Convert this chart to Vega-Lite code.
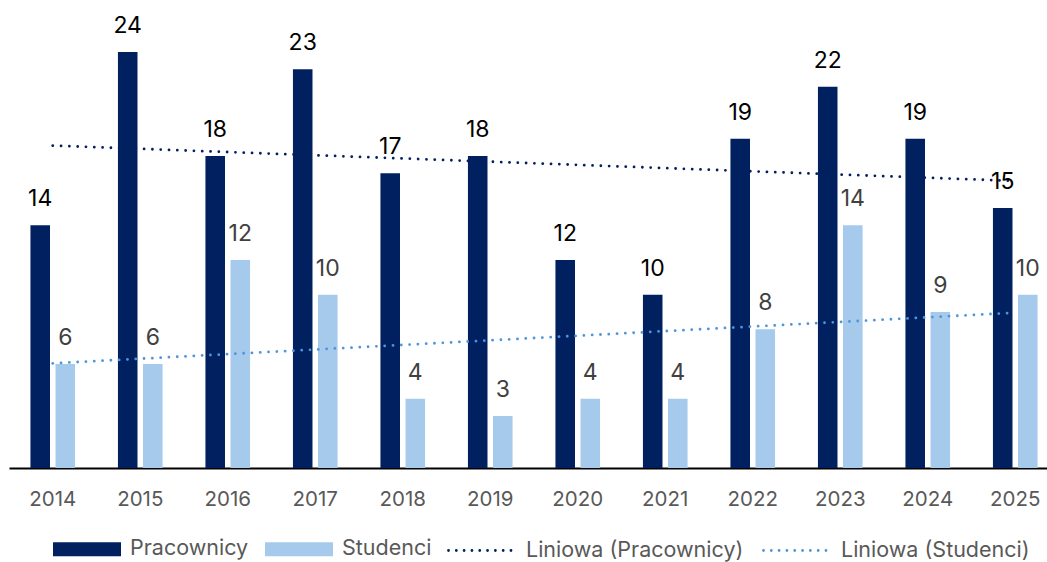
{
  "$schema": "https://vega.github.io/schema/vega-lite/v6.json",
  "width": 1050,
  "height": 468,
  "autosize": {"type": "none"},
  "padding": {"left": 9, "top": 0, "right": 0, "bottom": 94},
  "background": "white",
  "config": {"font": "Inter", "view": {"stroke": null}},
  "datasets": {
    "bars": [
      {"year": "2014", "series": "Pracownicy", "value": 14},
      {"year": "2014", "series": "Studenci", "value": 6},
      {"year": "2015", "series": "Pracownicy", "value": 24},
      {"year": "2015", "series": "Studenci", "value": 6},
      {"year": "2016", "series": "Pracownicy", "value": 18},
      {"year": "2016", "series": "Studenci", "value": 12},
      {"year": "2017", "series": "Pracownicy", "value": 23},
      {"year": "2017", "series": "Studenci", "value": 10},
      {"year": "2018", "series": "Pracownicy", "value": 17},
      {"year": "2018", "series": "Studenci", "value": 4},
      {"year": "2019", "series": "Pracownicy", "value": 18},
      {"year": "2019", "series": "Studenci", "value": 3},
      {"year": "2020", "series": "Pracownicy", "value": 12},
      {"year": "2020", "series": "Studenci", "value": 4},
      {"year": "2021", "series": "Pracownicy", "value": 10},
      {"year": "2021", "series": "Studenci", "value": 4},
      {"year": "2022", "series": "Pracownicy", "value": 19},
      {"year": "2022", "series": "Studenci", "value": 8},
      {"year": "2023", "series": "Pracownicy", "value": 22},
      {"year": "2023", "series": "Studenci", "value": 14},
      {"year": "2024", "series": "Pracownicy", "value": 19},
      {"year": "2024", "series": "Studenci", "value": 9},
      {"year": "2025", "series": "Pracownicy", "value": 15},
      {"year": "2025", "series": "Studenci", "value": 10}
    ],
    "trend": [
      {"year": "2014", "series": "Liniowa (Pracownicy)", "value": 18.6},
      {"year": "2025", "series": "Liniowa (Pracownicy)", "value": 16.56},
      {"year": "2014", "series": "Liniowa (Studenci)", "value": 6.04},
      {"year": "2025", "series": "Liniowa (Studenci)", "value": 8.96}
    ]
  },
  "layer": [
    {
      "data": {"name": "bars"},
      "mark": {"type": "bar"},
      "encoding": {
        "x": {
          "field": "year",
          "type": "ordinal",
          "scale": {"paddingInner": 0.49, "paddingOuter": 0.245},
          "axis": {
            "title": null,
            "domainColor": "#000000",
            "domainWidth": 1.8,
            "ticks": false,
            "grid": false,
            "labelFontSize": 20.5,
            "labelColor": "#595959",
            "labelPadding": 21,
            "labelAngle": 0
          }
        },
        "xOffset": {
          "field": "series",
          "type": "nominal",
          "scale": {"domain": ["Pracownicy", "Studenci"], "paddingInner": 0.22, "paddingOuter": 0}
        },
        "y": {
          "field": "value",
          "type": "quantitative",
          "scale": {"domain": [0, 27], "nice": false},
          "axis": null
        },
        "fill": {
          "field": "series",
          "type": "nominal",
          "scale": {"domain": ["Pracownicy", "Studenci"], "range": ["#002060", "#a6caec"]},
          "legend": {
            "orient": "none",
            "legendX": 44,
            "legendY": 515,
            "direction": "horizontal",
            "columns": 2,
            "title": null,
            "symbolType": "M-1,-0.206H1V0.206H-1Z",
            "symbolSize": 4624,
            "symbolStrokeWidth": 0,
            "symbolOpacity": 1,
            "labelFontSize": 21.5,
            "labelColor": "#595959",
            "labelOffset": 9,
            "columnPadding": 16,
            "padding": 0,
            "labelLimit": 400
          }
        }
      }
    },
    {
      "data": {"name": "trend"},
      "mark": {"type": "line", "strokeWidth": 2.8, "strokeCap": "round", "strokeDash": [0.01, 8.3]},
      "encoding": {
        "x": {"field": "year", "type": "ordinal"},
        "y": {"field": "value", "type": "quantitative"},
        "stroke": {
          "field": "series",
          "type": "nominal",
          "scale": {"domain": ["Liniowa (Pracownicy)", "Liniowa (Studenci)"], "range": ["#002060", "#4e95d9"]},
          "legend": {
            "orient": "none",
            "legendX": 438,
            "legendY": 514,
            "direction": "horizontal",
            "columns": 2,
            "title": null,
            "symbolType": "stroke",
            "symbolSize": 4900,
            "symbolStrokeWidth": 2.8,
            "symbolDash": [0.01, 7.8],
            "labelFontSize": 21.5,
            "labelColor": "#595959",
            "labelOffset": 6,
            "columnPadding": 13,
            "padding": 0,
            "labelLimit": 400,
            "encode": {"symbols": {"update": {"strokeCap": {"value": "round"}}}}
          }
        }
      }
    },
    {
      "data": {"name": "bars"},
      "mark": {"type": "text", "dy": -19, "baseline": "alphabetic", "fontSize": 23},
      "encoding": {
        "x": {"field": "year", "type": "ordinal"},
        "xOffset": {"field": "series", "type": "nominal"},
        "y": {"field": "value", "type": "quantitative"},
        "text": {"field": "value", "type": "quantitative"},
        "color": {
          "condition": {"test": "datum.series === 'Pracownicy'", "value": "#000000"},
          "value": "#404040"
        }
      }
    }
  ]
}
